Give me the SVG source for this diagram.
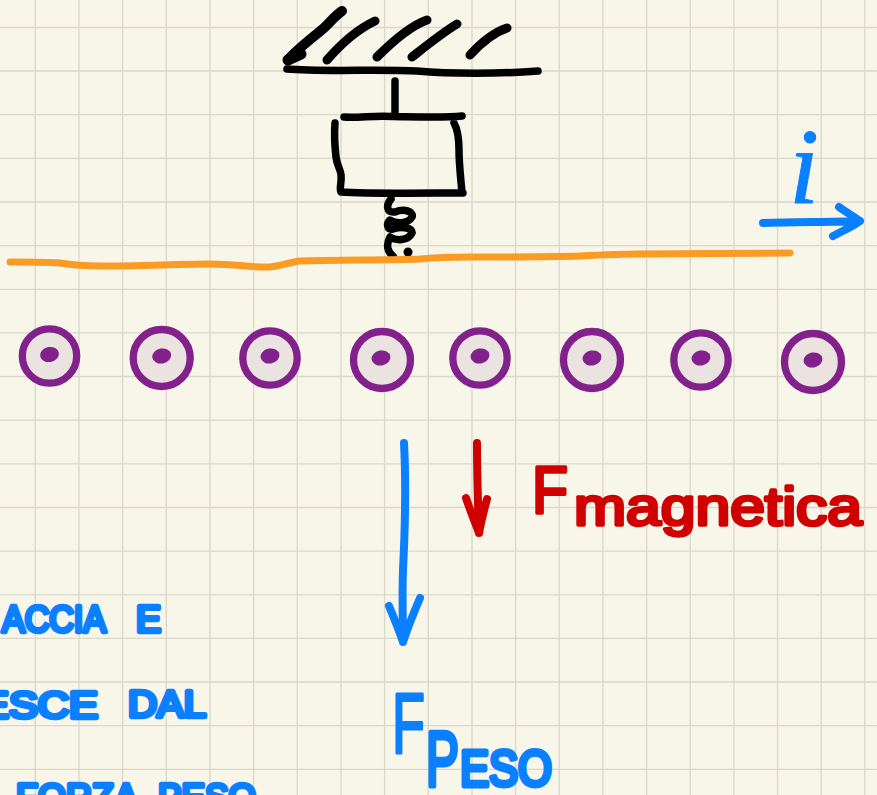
<svg xmlns="http://www.w3.org/2000/svg" width="877" height="795" viewBox="0 0 877 795">
<style>
.grid{stroke:#d9d8cb;stroke-width:1.3;fill:none}
.ink{fill:none;stroke:#000;stroke-linecap:round;stroke-linejoin:round;stroke-width:7.500}
.blue{fill:none;stroke:#0a80ff;stroke-linecap:round;stroke-linejoin:round;stroke-width:8}
.red{fill:none;stroke:#d00000;stroke-linecap:round;stroke-linejoin:round;stroke-width:8}
.wire{fill:none;stroke:#f99b24;stroke-linecap:round;stroke-linejoin:round;stroke-width:7}
.ring{fill:#ebe3e0;stroke:#82218b;stroke-width:7.300}
.dot{fill:#82218b}
text{font-family:"Liberation Sans",Arial,sans-serif;stroke-linejoin:round}
.tb{fill:#0a80ff;stroke:#0a80ff;font-size:36px;stroke-width:4.500}
.tf{fill:#0a80ff;stroke:#0a80ff;stroke-width:4}
.tr{fill:#d00000;stroke:#d00000;stroke-width:3.500}
</style>
<rect id="paper" width="877" height="795" fill="#f8f6e9"/>
<path class="grid" d="M35.3 0V795M79 0V795M122.6 0V795M166.3 0V795M210 0V795M253.6 0V795M297.3 0V795M341 0V795M384.6 0V795M428.3 0V795M472 0V795M515.6 0V795M559.3 0V795M602.9 0V795M646.6 0V795M690.2 0V795M733.9 0V795M777.5 0V795M821.2 0V795M864.8 0V795M0 27.5H877M0 71H877M0 114.7H877M0 158.3H877M0 202H877M0 245.6H877M0 289.3H877M0 332.9H877M0 376.5H877M0 420.2H877M0 463.8H877M0 507.5H877M0 551.1H877M0 594.8H877M0 638.4H877M0 682H877M0 725.7H877M0 769.3H877"/>

<g id="support">
<path class="ink" style="stroke-width:10" d="M288 60C296 50 315 36 325 27C331 21 336 15 342 11"/>
<path class="ink" style="stroke-width:11" d="M288 60L301 54"/>
<path class="ink" style="stroke-width:9" d="M327 60C340 45 358 29 375 21M377 57C392 42 410 26 427 20M412 57C426 46 442 33 457 24M470 55C480 44 492 33 507 28"/>
<path class="ink" d="M287 69C320 72 380 69 417 71C450 74 500 74 538 71"/>
</g>
<g id="mass">
<path class="ink" d="M395 81L395 115"/>
<path class="ink" d="M344 117C360 118 375 115 393 116.500C420 117 445 118 462 116M335 123C334 135 335 148 336 157C337 166 341 170 341 175C342 182 339 188 341 192C370 194 430 193 463 193M454 123C458 130 459 138 459 150C459 165 461 180 462 193"/>
</g>
<g id="spring">
<path class="ink" d="M391 199C386 205 386 213 395 212C405 208 414 212 412 217C408 224 396 224 390 220C386 224 387 230 393 229C403 226 413 228 412 233C408 241 396 241 390 237C386 244 387 252 393 256"/>
<path class="ink" style="stroke-width:9" d="M408 252L408.100 252.100"/>
</g>

<g id="connectors">
<path id="wire" class="wire" d="M10 262C30 262 50 262 60 263C72 265 85 266 100 266C140 266 180 264 210 264C235 264 255 268 270 267C282 266 290 262 300 261C340 260 390 260 420 259C440 257 455 257 470 257C510 257 550 257 580 256C600 255 620 254 640 254C690 254 740 253 790 253"/>
<path id="current-arrow" class="blue" d="M763 223C795 222 830 222 860 221M839 207C846 212 853 216 860 221C852 227 842 231 833 236"/>
<path id="weight-arrow" class="blue" d="M404 443C406 480 405 530 403 570C402 600 403 625 403 642M389 606C394 618 399 630 403 642C408 627 414 612 420 598"/>
<path id="magnetic-arrow" class="red" d="M477 443C477 475 478 505 479 533M466 498C470 510 475 522 479 533C481 522 484 510 487 499"/>
</g>

<g id="field-1"><circle class="ring" cx="49.500" cy="356" r="27.200"/><ellipse class="dot" cx="49.500" cy="354.500" rx="9.500" ry="7.500" transform="rotate(-10 49.500 354.500)"/></g>
<g id="field-2"><circle class="ring" cx="161.700" cy="358" r="28.500"/><ellipse class="dot" cx="161.700" cy="356" rx="9.500" ry="7.500" transform="rotate(-10 161.700 356)"/></g>
<g id="field-3"><circle class="ring" cx="270" cy="358" r="27.200"/><ellipse class="dot" cx="270" cy="356" rx="9.500" ry="7.500" transform="rotate(-10 270 356)"/></g>
<g id="field-4"><circle class="ring" cx="382" cy="360" r="28.500"/><ellipse class="dot" cx="381" cy="358" rx="9.500" ry="7.500" transform="rotate(-10 381 358)"/></g>
<g id="field-5"><circle class="ring" cx="480" cy="358" r="27.200"/><ellipse class="dot" cx="480" cy="356" rx="9.500" ry="7.500" transform="rotate(-10 480 356)"/></g>
<g id="field-6"><circle class="ring" cx="592" cy="360" r="28.500"/><ellipse class="dot" cx="592" cy="358" rx="9.500" ry="7.500" transform="rotate(-10 592 358)"/></g>
<g id="field-7"><circle class="ring" cx="701" cy="360" r="27.200"/><ellipse class="dot" cx="701" cy="358" rx="9.500" ry="7.500" transform="rotate(-10 701 358)"/></g>
<g id="field-8"><circle class="ring" cx="813" cy="362" r="28.500"/><ellipse class="dot" cx="813" cy="360" rx="9.500" ry="7.500" transform="rotate(-10 813 360)"/></g>

<g id="labels">
<text class="tf" x="789" y="203" style="font-family:'Liberation Serif',serif;font-style:italic;font-size:108px;stroke-width:1">i</text>
<text class="tr" x="532" y="513" font-size="66" textLength="36" lengthAdjust="spacingAndGlyphs">F</text>
<text class="tr" x="574" y="525" font-size="54" textLength="288" lengthAdjust="spacingAndGlyphs">magnetica</text>
<text class="tf" x="392" y="753" font-size="86" textLength="33" lengthAdjust="spacingAndGlyphs" style="stroke-width:3">F</text>
<text class="tf" x="426" y="786" font-size="78" textLength="33" lengthAdjust="spacingAndGlyphs" style="stroke-width:5">P</text>
<text class="tf" x="460" y="786" font-size="50" textLength="92" lengthAdjust="spacingAndGlyphs" style="stroke-width:5">ESO</text>
<text class="tb" x="2" y="632" textLength="104" lengthAdjust="spacingAndGlyphs">ACCIA</text>
<text class="tb" x="136" y="632" textLength="25" lengthAdjust="spacingAndGlyphs">E</text>
<text class="tb" x="-20" y="718" textLength="118" lengthAdjust="spacingAndGlyphs">ESCE</text>
<text class="tb" x="128" y="717" textLength="78" lengthAdjust="spacingAndGlyphs">DAL</text>
<text class="tb" x="16" y="810" textLength="122" lengthAdjust="spacingAndGlyphs">FORZA</text>
<text class="tb" x="158" y="810" textLength="98" lengthAdjust="spacingAndGlyphs">PESO</text>
</g>
</svg>
